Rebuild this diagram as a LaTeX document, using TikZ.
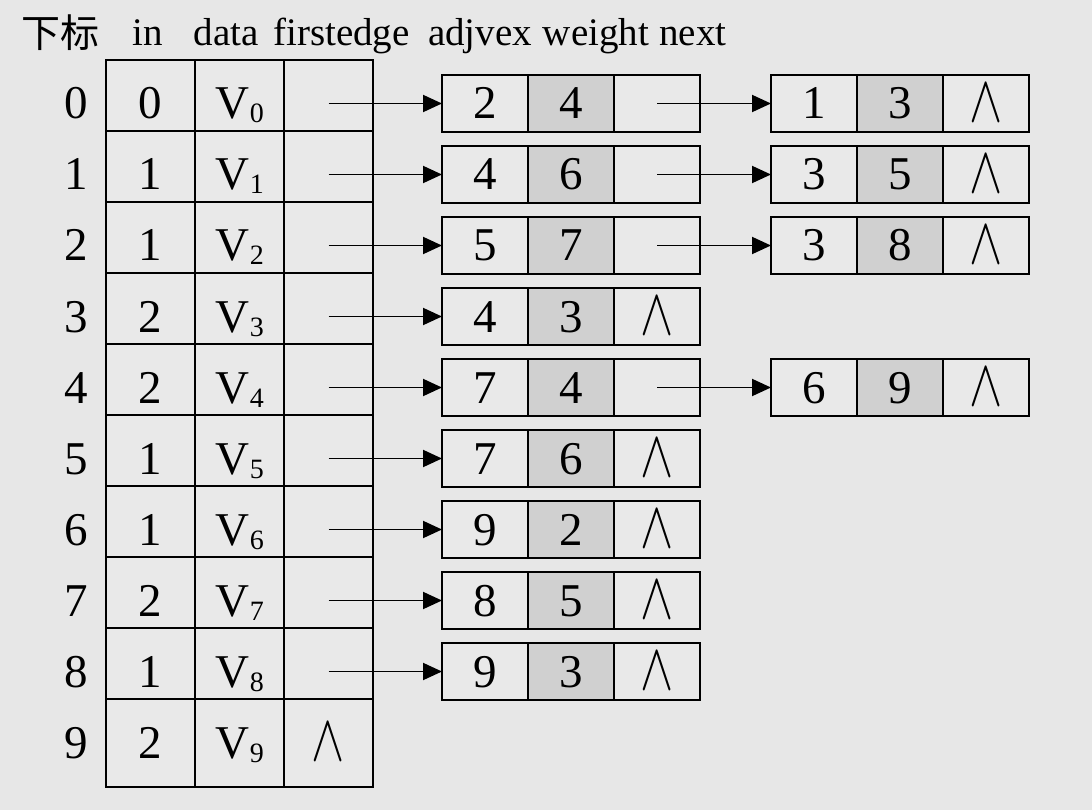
\documentclass[tikz,border=0pt]{standalone}
\usepackage{fontspec}
\usepackage{graphicx}
\setmainfont{Liberation Serif}
\newfontfamily\cjk{Noto Sans CJK SC}
\usetikzlibrary{arrows.meta}
\definecolor{bgc}{gray}{0.905}
\definecolor{cellc}{gray}{0.915}
\definecolor{shd}{gray}{0.815}
\newcommand\Vsub[1]{V\kern1pt\raisebox{-4pt}{\fontsize{28}{28}\selectfont #1}}
\newcommand\nullmark{\raisebox{-2.5pt}{\scalebox{2.4}[3.2]{\fontsize{20.74}{20.74}\selectfont$\wedge$}}}
\tikzset{
  vcell/.style={draw=black, line width=1.9pt, fill=cellc, minimum width=89pt, minimum height=#1, inner sep=0pt, outer sep=0pt},
  vcell/.default=71pt,
  ecell/.style={draw=black, line width=1.9pt, fill=cellc, minimum width=86pt, minimum height=57pt, inner sep=0pt, outer sep=0pt},
  txt/.style={font=\fontsize{47}{47}\selectfont, inner sep=0pt, anchor=base},
  hdr/.style={font=\fontsize{39}{39}\selectfont, inner sep=0pt, anchor=base},
  arr/.style={line width=1.9pt, -{Triangle[length=19pt,width=17pt]}},
}
\begin{document}
\begin{tikzpicture}[x=1pt,y=-1pt]
\fill[bgc] (0,0) rectangle (1092,810);
\useasboundingbox (0,0) rectangle (1092,810);
% header
\node[hdr] (hxb) at (60.5,48) {\cjk 下标};
\node[hdr] (hin) at (148,46) {in};
\node[hdr] (hda) at (226,46) {data};
\node[hdr] (hfe) at (341.5,46) {firstedge};
\node[hdr] (had) at (480,46) {adjvex};
\node[hdr] (hwe) at (596,46) {weight};
\node[hdr] (hne) at (693,46) {next};
% vertex table
\foreach \r/\i in {0/0,1/1,2/1,3/2,4/2,5/1,6/1,7/2,8/1} {
  \pgfmathsetmacro\yc{95.5+71*\r}
  \pgfmathsetmacro\yb{119+71*\r}
  \node[vcell] (in\r) at (150.5,\yc) {};
  \node[vcell] (da\r) at (239.5,\yc) {};
  \node[vcell] (fe\r) at (328.5,\yc) {};
  \node[txt] (ix\r) at (76,\yb) {\r};
  \node[txt] (ti\r) at (150.5,\yb) {\i};
  \node[txt] (tv\r) at (239.5,\yb) {\Vsub{\r}};
}
\node[vcell=88pt] (in9) at (150.5,743) {};
\node[vcell=88pt] (da9) at (239.5,743) {};
\node[vcell=88pt] (fe9) at (328.5,743) {};
\node[txt] (ix9) at (76,758) {9};
\node[txt] (ti9) at (150.5,758) {2};
\node[txt] (tv9) at (239.5,758) {\Vsub{9}};
\node[txt] (tn9) at (328.5,758) {\nullmark};
% first edge boxes
\foreach \r/\a/\w/\n in {0/2/4/1,1/4/6/1,2/5/7/1,3/4/3/0,4/7/4/1,5/7/6/0,6/9/2/0,7/8/5/0,8/9/3/0} {
  \pgfmathsetmacro\yc{103.5+71*\r}
  \pgfmathsetmacro\yb{119+71*\r}
  \node[ecell] (ea\r) at (485,\yc) {};
  \node[ecell,fill=shd] (ew\r) at (571,\yc) {};
  \node[ecell] (en\r) at (657,\yc) {};
  \node[txt] (tea\r) at (485,\yb) {\a};
  \node[txt] (tew\r) at (571,\yb) {\w};
  \ifnum\n=0 \node[txt] (ten\r) at (657,\yb) {\nullmark}; \fi
  \draw[arr] (fe\r.center |- ea\r.west) -- (ea\r.west);
}
% second edge boxes
\foreach \r/\a/\w in {0/1/3,1/3/5,2/3/8,4/6/9} {
  \pgfmathsetmacro\yc{103.5+71*\r}
  \pgfmathsetmacro\yb{119+71*\r}
  \node[ecell] (fa\r) at (814,\yc) {};
  \node[ecell,fill=shd] (fw\r) at (900,\yc) {};
  \node[ecell] (fn\r) at (986,\yc) {};
  \node[txt] (tfa\r) at (814,\yb) {\a};
  \node[txt] (tfw\r) at (900,\yb) {\w};
  \node[txt] (tfn\r) at (986,\yb) {\nullmark};
  \draw[arr] (en\r.center |- fa\r.west) -- (fa\r.west);
}
\end{tikzpicture}
\end{document}
